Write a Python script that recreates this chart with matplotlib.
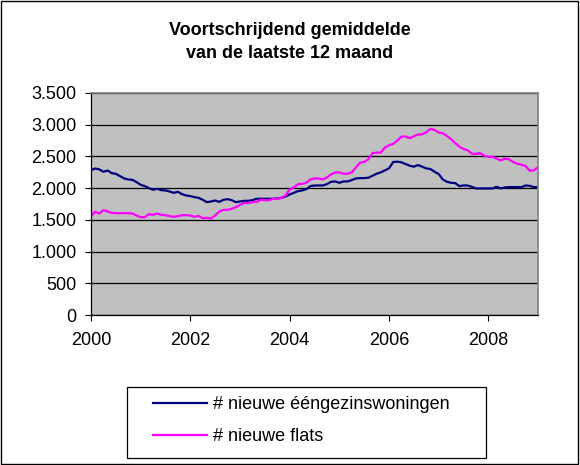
import numpy as np
import matplotlib
matplotlib.use("Agg")
import matplotlib.pyplot as plt
from matplotlib.ticker import FuncFormatter, MultipleLocator
from matplotlib.patches import Rectangle

# Monthly moving averages, Jan 2000 .. Jan 2009 (109 points)
start_year = 2000
eengezins = [2284, 2310, 2295, 2258, 2279, 2237, 2226, 2190, 2153, 2137, 2131, 2095,
             2053, 2032, 2000, 1974, 1990, 1968, 1963, 1947, 1926, 1942, 1905, 1884,
             1874, 1858, 1847, 1816, 1779, 1790, 1805, 1784, 1816, 1826, 1810, 1779,
             1790, 1800, 1800, 1810, 1832, 1832, 1832, 1832, 1832, 1837, 1847, 1868,
             1900, 1926, 1953, 1963, 1984, 2032, 2042, 2042, 2042, 2063, 2100, 2106,
             2084, 2106, 2106, 2127, 2153, 2158, 2158, 2164, 2195, 2227, 2248, 2280,
             2312, 2412, 2417, 2407, 2380, 2354, 2338, 2364, 2338, 2312, 2301, 2259,
             2222, 2137, 2100, 2084, 2079, 2032, 2042, 2042, 2021, 1995, 1995, 1995,
             1995, 1995, 2021, 1995, 2011, 2016, 2016, 2016, 2016, 2042, 2037, 2016,
             2016]
flats = [1558, 1627, 1600, 1653, 1632, 1611, 1605, 1605, 1605, 1605, 1600, 1569,
         1542, 1542, 1590, 1579, 1600, 1579, 1574, 1558, 1548, 1558, 1574, 1574,
         1569, 1548, 1563, 1527, 1532, 1521, 1569, 1632, 1658, 1658, 1674, 1700,
         1737, 1769, 1763, 1779, 1784, 1816, 1810, 1810, 1832, 1832, 1847, 1884,
         1979, 2011, 2063, 2068, 2084, 2137, 2153, 2153, 2137, 2169, 2216, 2248,
         2248, 2227, 2227, 2248, 2327, 2401, 2412, 2454, 2549, 2560, 2560, 2639,
         2676, 2697, 2750, 2813, 2813, 2787, 2818, 2845, 2850, 2882, 2935, 2919,
         2876, 2866, 2824, 2771, 2708, 2655, 2618, 2597, 2544, 2539, 2554, 2512,
         2491, 2496, 2465, 2438, 2465, 2454, 2412, 2385, 2370, 2348, 2275, 2280,
         2333]
labels = ["# nieuwe ééngezinswoningen", "# nieuwe flats"]
title = "Voortschrijdend gemiddelde\nvan de laatste 12 maand"

x = start_year + np.arange(len(eengezins)) / 12.0

plt.rcParams['font.family'] = ['Liberation Sans', 'DejaVu Sans']

W, H = 580, 465
fig = plt.figure(figsize=(W / 100, H / 100), dpi=100)
fig.patch.set_facecolor('white')

def fx(px):
    return px / W

def fy(py):
    return 1 - py / H

ax = fig.add_axes([fx(91), fy(315), fx(538) - fx(91), fy(93) - fy(315)])
ax.set_facecolor('#C0C0C0')

l1, = ax.plot(x, eengezins, color='#000080', lw=1.6, label=labels[0])
l2, = ax.plot(x, flats, color='#FF00FF', lw=1.6, label=labels[1])

ax.set_xlim(2000, 2009)
ax.set_ylim(0, 3500)
ax.xaxis.set_major_locator(MultipleLocator(2))
ax.yaxis.set_major_locator(MultipleLocator(500))
ax.yaxis.set_major_formatter(FuncFormatter(lambda v, p: f"{int(v):,}".replace(",", ".")))
ax.xaxis.set_major_formatter(FuncFormatter(lambda v, p: f"{int(v)}"))
ax.grid(axis='y', color='black', lw=0.9)
ax.set_axisbelow(True)
ax.tick_params(axis='both', direction='out', length=4.5, width=0.8, labelsize=13, color='black')
ax.tick_params(axis='y', pad=6)
ax.tick_params(axis='x', pad=8)
for s in ['top', 'right']:
    ax.spines[s].set_color('#808080')
    ax.spines[s].set_linewidth(1.2)
for s in ['left', 'bottom']:
    ax.spines[s].set_color('black')
    ax.spines[s].set_linewidth(0.9)

fig.text(0.5, fy(42), title, ha='center', va='center', fontsize=13,
         fontweight='bold', linespacing=1.5)

# legend
fig.patches.append(Rectangle((fx(127), fy(458)), fx(486) - fx(127), fy(387) - fy(458),
                             transform=fig.transFigure, fill=False, ec='black', lw=0.9))
leg = fig.legend(handles=[l1, l2], labels=labels, loc='upper left',
                 bbox_to_anchor=(fx(153), fy(396)), frameon=False, borderpad=0,
                 borderaxespad=0, handlelength=3.0, handletextpad=0.3,
                 labelspacing=0.85, fontsize=13)

# outer border
fig.patches.append(Rectangle((0.002, 0.002), 0.995, 0.995, transform=fig.transFigure,
                             fill=False, ec='black', lw=1.0))

fig.savefig('out.png', dpi=100)
